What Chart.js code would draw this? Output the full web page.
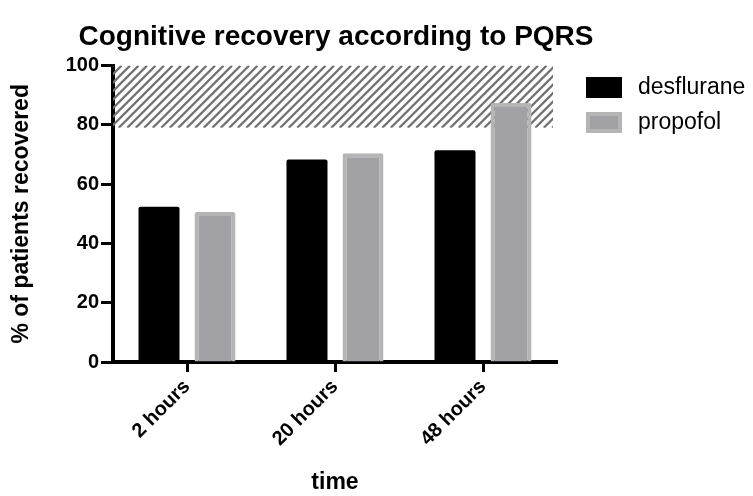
<!DOCTYPE html>
<html>
<head>
<meta charset="utf-8">
<script src="https://cdn.jsdelivr.net/npm/chart.js@4"></script>
<style>
  body { margin: 0; background: #fff; }
  #wrap { width: 753px; height: 496px; }
</style>
</head>
<body>
<div id="wrap"><canvas id="cog" width="753" height="496"></canvas></div>
<script>
// data
const timePoints = ["2 hours", "20 hours", "48 hours"];
const desflurane = [52.4, 68.3, 71.4];
const propofol = [50.6, 70.4, 87.4];
const yTicks = [0, 20, 40, 60, 80, 100];
const hatchFrom = 79;
const hatchTo = 100;

const FONT = "'Liberation Sans', Arial, sans-serif";

// hatched band behind the bars
const hatchPlugin = {
  id: "hatch",
  beforeDatasetsDraw(chart) {
    const { ctx, chartArea, scales } = chart;
    const top = scales.y.getPixelForValue(hatchTo);
    const bot = scales.y.getPixelForValue(hatchFrom);
    const left = chartArea.left;
    const right = chartArea.right - 4;
    ctx.save();
    ctx.beginPath();
    ctx.rect(left, top, right - left, bot - top);
    ctx.clip();
    ctx.strokeStyle = "#717171";
    ctx.lineWidth = 2.2;
    const h = bot - top;
    for (let x = left - h; x < right + 10; x += 8.5) {
      ctx.beginPath();
      ctx.moveTo(x, bot);
      ctx.lineTo(x + h, top);
      ctx.stroke();
    }
    ctx.restore();
  }
};

// legend on the right, drawn from the datasets
const sideLegend = {
  id: "sideLegend",
  afterDraw(chart) {
    const ctx = chart.ctx;
    ctx.save();
    ctx.font = "23px " + FONT;
    ctx.textBaseline = "middle";
    chart.data.datasets.forEach((ds, i) => {
      const y = 77 + i * 35;
      ctx.fillStyle = ds.borderColor;
      ctx.fillRect(586, y, 36, 21);
      ctx.fillStyle = ds.backgroundColor;
      ctx.fillRect(586 + 4, y + 4, 28, 13);
      ctx.fillStyle = "#000";
      ctx.fillText(ds.label, 638, y + 11);
    });
    ctx.restore();
  }
};

const ctx = document.getElementById("cog").getContext("2d");
const chart = new Chart(ctx, {
  type: "bar",
  data: {
    labels: timePoints,
    datasets: [
      {
        label: "desflurane",
        data: desflurane,
        backgroundColor: "#000000",
        borderColor: "#000000",
        borderWidth: 0,
        borderRadius: 2
      },
      {
        label: "propofol",
        data: propofol,
        backgroundColor: "#a2a1a6",
        borderColor: "#b5b5b5",
        borderWidth: 4,
        borderSkipped: "bottom",
        borderRadius: 2
      }
    ]
  },
  options: {
    responsive: false,
    animation: false,
    // title spans 0..672 so it centres over the plot; the empty right axis keeps room for the legend
    layout: { padding: { left: 0, right: 81, top: 0, bottom: 0 } },
    categoryPercentage: 0.757,
    barPercentage: 0.732,
    plugins: {
      legend: { display: false },
      tooltip: { enabled: false },
      title: {
        display: true,
        text: "Cognitive recovery according to PQRS",
        color: "#000",
        font: { family: FONT, size: 28, weight: "bold" },
        padding: { top: 20, bottom: 12 }
      }
    },
    scales: {
      x: {
        z: 1,
        grid: { offset: false, drawOnChartArea: false, tickLength: 10, tickWidth: 3, tickColor: "#000" },
        border: { display: true, color: "#000", width: 4 },
        ticks: {
          color: "#000",
          font: { family: FONT, size: 20, weight: "bold" },
          minRotation: 45,
          maxRotation: 45,
          padding: 3
        },
        title: {
          display: true,
          text: "time",
          color: "#000",
          font: { family: FONT, size: 23, weight: "bold" },
          padding: { top: 0, bottom: 0 }
        },
        afterFit(scale) { scale.height = 134; }
      },
      y: {
        z: 1,
        min: 0,
        max: 100,
        afterBuildTicks(scale) { scale.ticks = yTicks.map(v => ({ value: v })); },
        grid: { drawOnChartArea: false, tickLength: 12, tickWidth: 3, tickColor: "#000" },
        border: { display: true, color: "#000", width: 4 },
        ticks: {
          color: "#000",
          font: { family: FONT, size: 20, weight: "bold" },
          padding: 2
        },
        title: {
          display: true,
          text: "% of patients recovered",
          color: "#000",
          font: { family: FONT, size: 23, weight: "bold" },
          padding: { top: 8, bottom: 0 }
        },
        afterFit(scale) { scale.width = 113; }
      },
      spacer: {
        type: "linear",
        position: "right",
        display: true,
        grid: { display: false },
        border: { display: false },
        ticks: { display: false },
        afterFit(scale) { scale.width = 115; }
      }
    }
  },
  plugins: [hatchPlugin, sideLegend]
});
</script>
</body>
</html>
